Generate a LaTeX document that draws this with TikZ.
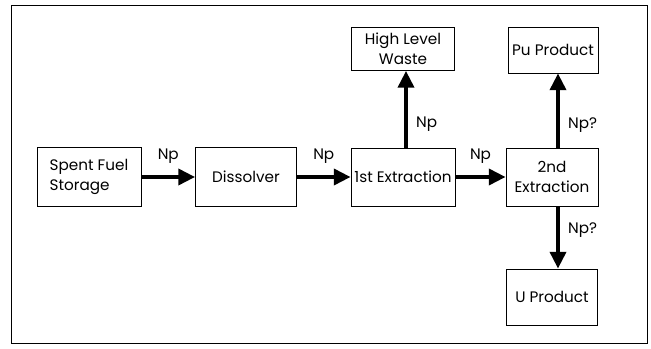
\documentclass[tikz,border=0pt]{standalone}
\usepackage{fontspec}
\setmainfont{Poppins}
\usetikzlibrary{arrows.meta}
\begin{document}
\begin{tikzpicture}[x=0.03cm,y=-0.03cm]
		\tikzset{box/.style = {draw, line width=0.8pt, inner sep=0pt, align=center, font=\fontsize{13}{17}\selectfont}}
		\tikzset{flow/.style = {line width=3pt, -{Triangle[length=0.5cm,width=0.48cm]}}}
		\tikzset{tag/.style = {inner sep=0pt, font=\fontsize{13}{17}\selectfont}}
		
		\useasboundingbox (0,0) rectangle (651,349);
		\draw[line width=0.8pt] (11,5) rectangle (647,343);
		
		\node[box, align=left, minimum width=3.12cm, minimum height=1.77cm] (1) at (  89, 177) {Spent Fuel\\Storage};
		\node[box, minimum width=3.03cm, minimum height=1.77cm] (2) at (246, 177) {Dissolver};
		\node[box, minimum width=3.12cm, minimum height=1.74cm] (3) at (403, 177) {1st Extraction};
		\node[box, minimum width=3.09cm, minimum height=1.29cm] (4) at (403,  49) {High Level\\Waste};
		\node[box, minimum width=2.76cm, minimum height=1.74cm] (5) at (552, 177) {2nd\\Extraction};
		\node[box, minimum width=2.70cm, minimum height=1.38cm] (6) at (553,  50) {Pu Product};
		\node[box, minimum width=2.73cm, minimum height=1.68cm] (7) at (552, 297) {U Product};
		
		\draw[flow] (1) -- node[tag, above=3.5mm] {Np} (2);
		\draw[flow] (2) -- node[tag, above=3.5mm] {Np} (3);
		\draw[flow] (3) -- node[tag, above=3.5mm] {Np} (5);
		\draw[flow] ([xshift=0.9mm]3.north) -- node[tag, pos=0.3, right=2.5mm] {Np} ([xshift=0.9mm]3.north |- 4.south);
		\draw[flow] ([xshift=1.8mm]5.north) -- node[tag, pos=0.3, right=2.5mm] {Np?} ([xshift=1.8mm]5.north |- 6.south);
		\draw[flow] ([xshift=1.8mm]5.south) -- node[tag, pos=0.38, right=2.5mm] {Np?} ([xshift=1.8mm]5.south |- 7.north);
		\end{tikzpicture}
\end{document}
